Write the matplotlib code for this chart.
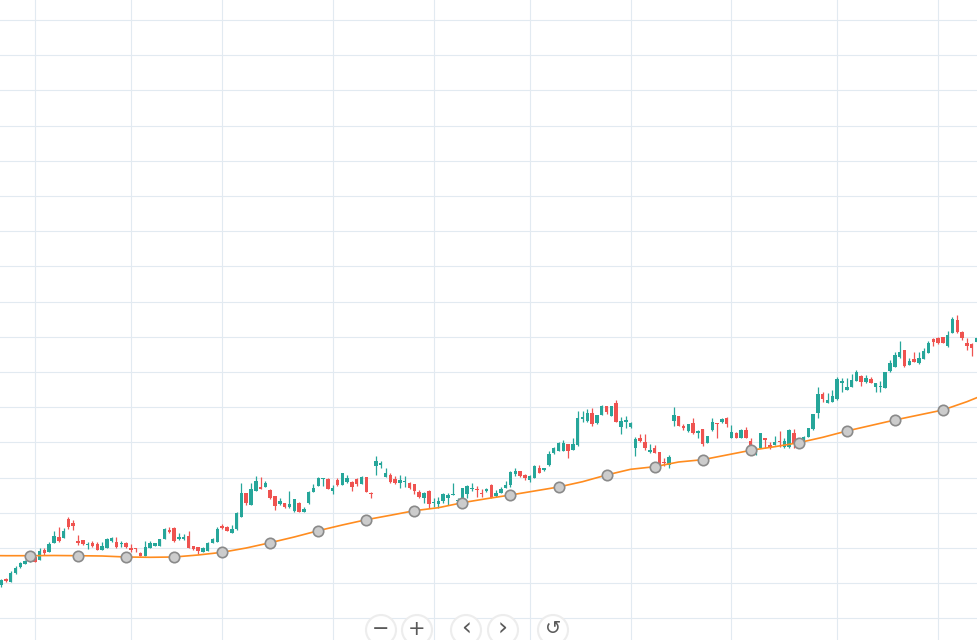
import numpy as np
import matplotlib.pyplot as plt
from matplotlib.patches import Ellipse

# --------------------------
# DADOS (candle a candle)
# --------------------------

abertura = [
    55, 61, 58, 67, 73, 76, 78.5, 83, 80, 90,
    88, 97, 103, 102, 121, 117.3, 99.3, 100, 95.5, 96.7,
    95.7, 90, 92.3, 99.3, 98.3, 95.7, 97.3, 92.3, 91.7, 87.3,
    84.3, 92.3, 94.3, 94, 100.7, 110, 112.3, 100.7, 101, 104.3,
    94, 92.7, 88.3, 89.3, 97.3, 98.3, 114, 112.7, 106.7, 111,
    123.3, 146.7, 135, 149.3, 152.7, 153.3, 150, 144, 136, 137.3,
    132.7, 129.3, 137.3, 128.3, 137.3, 147.7, 154, 160.7, 161.3, 149.3,
    160, 155, 158.3, 158.3, 161, 155.7, 163.3, 147.3, 174.3, 175.3,
    163.3, 165, 160.7, 156.7, 158.3, 157.3, 155.7, 148.3, 142.3, 149,
    136.7, 135.7, 139, 142.3, 145, 139, 142.3, 146, 151, 151,
    146.7, 149, 155, 144, 147.3, 151.7, 155, 165.7, 169, 165,
    160, 162.3, 172.3, 170, 175, 186.7, 189, 189, 195.7, 190,
    195, 221, 219, 227.3, 216.7, 225, 234, 224.3, 237.3, 213.3,
    218.3, 213.3, 192.3, 202.3, 198.3, 188.3, 191.7, 187.7, 177.3, 175,
    219, 224, 214.3, 209, 216.7, 206.7, 210.7, 197.3, 210, 217.3,
    218.3, 221.7, 202.3, 206.7, 202.3, 210, 199, 185.7, 192.3, 202.3,
    195, 195, 199, 193.3, 193.3, 207.3, 197, 199, 203.3, 211,
    226.7, 246, 237.3, 238.3, 241, 257, 250, 253.3, 259, 264,
    258.3, 261, 253.3, 252.7, 251.7, 269, 273.3, 283.3, 290, 275,
    281, 276.7, 281, 286.7, 301, 302.3, 303, 294.3, 306.7, 320,
    308.3, 296.7, 295.7, 298.3,
]
maxima = [
    61, 62, 69, 74, 78, 80, 80.7, 83.5, 92, 92,
    98.3, 109, 113.3, 112.3, 123.3, 120, 105, 100.5, 97.7, 99,
    98.3, 97.7, 101.7, 103.3, 103.3, 99, 98.3, 95.7, 92.3, 88.3,
    99, 99, 97.5, 101.5, 111.7, 113.3, 113.3, 106.7, 105.7, 109,
    94.5, 93.3, 93.3, 98, 101.7, 112.7, 116, 114, 115, 128,
    156.7, 147.3, 156.7, 164, 163.3, 159, 150.7, 144, 141.7, 137.5,
    149, 141, 138.3, 132.7, 149.3, 155.7, 163.3, 162.5, 162, 155,
    161.7, 167, 165, 159.3, 161.7, 164, 163.5, 148.3, 184, 179,
    171.7, 166.7, 164, 165, 164, 158, 156.5, 150, 148.3, 150,
    142, 143.3, 147.3, 146.7, 157.3, 142, 152, 155, 157.3, 154,
    150.7, 152.3, 155.7, 150, 153.3, 159, 169, 171.7, 169.5, 165.7,
    165, 175, 175, 172.5, 189, 193.3, 198.3, 200, 196, 202.3,
    229, 229, 230.7, 231.7, 225.5, 235, 234.5, 234.5, 240, 223.3,
    224.3, 218.3, 203.3, 205.7, 205.7, 195.7, 195, 188.3, 182.3, 185,
    232.7, 224.5, 215.7, 216, 221.7, 210, 211, 204.5, 222.3, 217.3,
    222.3, 223.3, 215, 207.7, 210.7, 213.3, 201.7, 193.3, 207.3, 202.3,
    198.3, 204.3, 209, 202.3, 211, 211, 201, 204, 212.5, 226.5,
    253.3, 247.7, 246.7, 250, 263.3, 261.7, 261.7, 265.7, 270, 265,
    265, 263.3, 257, 259, 268.3, 280, 288.3, 299, 290, 281.7,
    287.7, 287.7, 292.3, 299, 302.3, 303, 303.5, 309, 323.3, 325,
    309, 301.7, 296.7, 303.3,
]
minima = [
    53, 58, 58, 66, 72, 76, 77.7, 78, 80, 85,
    88, 97, 98.3, 102, 111, 110, 95, 95.5, 90.7, 93.3,
    90, 90, 92.3, 97.7, 91.7, 93.3, 92.3, 88.3, 88.3, 84.3,
    84.3, 92.3, 94, 94, 100.7, 106.7, 98.3, 100, 100, 91.7,
    90.5, 86, 88.3, 89, 97.3, 98.3, 111, 109.3, 106.7, 110.5,
    123.3, 135, 135, 149.3, 151, 152.7, 140.7, 130, 135, 132.5,
    132, 128.3, 128.3, 128.3, 136, 147.7, 154, 154, 150.7, 145.7,
    154, 155, 156.7, 149.3, 154, 155.7, 148, 141.7, 165, 171.7,
    163.3, 157.3, 155.7, 151.7, 153.3, 151, 145.7, 142.3, 136.7, 131.7,
    133.3, 131.7, 136.7, 135, 145, 136.7, 142.3, 141.7, 149.3, 143.3,
    143.3, 147.7, 141.7, 143, 147.3, 151.7, 153.3, 164.3, 163.5, 160,
    158.3, 161.7, 166.7, 169.5, 174.3, 185.7, 189, 189, 182.3, 190,
    194.3, 218.3, 217.7, 214.3, 216.5, 225, 225.7, 224, 217.7, 205.7,
    211.7, 212.3, 184.3, 198.3, 190, 186.7, 186.7, 174.3, 174.3, 172.3,
    214, 214, 210, 207.7, 205.7, 201.7, 194.3, 197, 209, 202.3,
    216.7, 213.3, 202.3, 201.7, 202.3, 201.7, 187.7, 185, 192.3, 192.3,
    191, 195, 193.3, 192.3, 192.3, 192.3, 196, 198, 203, 210.5,
    221.7, 238.3, 237.3, 238.3, 240, 248, 250, 253.3, 259, 254,
    257.3, 256.7, 248.3, 248.3, 251.7, 268.3, 273.3, 281.7, 273.3, 275,
    278.3, 275.7, 281, 286.7, 294.3, 296.3, 297, 293.3, 306.7, 306.7,
    300, 290, 284.3, 298,
]
fechamento = [
    60, 59, 67, 72, 77, 79, 79.3, 78, 89, 87,
    96, 104, 99, 109, 113, 114, 97.3, 95.7, 96.2, 94.3,
    90, 94.3, 100.7, 101.7, 92.7, 96.7, 93.3, 90, 91, 84.3,
    93.3, 96.7, 96.7, 100.7, 110.7, 107.7, 99.3, 103.3, 103.3, 92.3,
    91, 89.3, 92.3, 97.3, 100.7, 111, 111.7, 109.3, 111, 127.3,
    147.3, 136.7, 151, 159, 151, 156.7, 142.3, 134, 139, 132.7,
    136, 140.7, 128.3, 130.7, 148.3, 151.7, 162.3, 162.3, 150.7, 151.7,
    155, 166.7, 161.7, 153.3, 156, 163.3, 148.3, 146, 179, 177.3,
    167.3, 158.3, 156.7, 160, 159, 151.7, 149, 143.3, 147.3, 135.7,
    138.3, 139, 146, 145, 146, 140, 151.7, 154, 151.7, 150,
    145.7, 150.7, 142.3, 146.7, 151, 155, 168.3, 169, 164, 162.3,
    164, 174, 167.3, 172.3, 185.7, 192.3, 197.3, 197.3, 189, 195.7,
    222.3, 223.3, 227, 215.7, 225, 234, 227.7, 234, 218.3, 219,
    220, 217.3, 201, 199, 191.7, 190, 187.3, 175, 176.7, 183.3,
    225, 214.3, 211.7, 215.7, 206.7, 209, 195.7, 204, 218.3, 215.7,
    221, 216, 208.3, 202.3, 210, 202.3, 193.3, 192.3, 206.7, 200,
    191.7, 198.3, 197.7, 199.3, 210, 196.7, 200, 203, 211.7, 225.7,
    245.7, 241, 240, 244.3, 261, 259, 253.3, 260, 267.7, 258.3,
    261.7, 256.7, 256.7, 253.3, 267.7, 276.7, 285, 288.3, 274.3, 279,
    278.3, 282.3, 289, 297.3, 297.7, 296.7, 297.3, 305, 321, 307.7,
    301.7, 294.3, 291.7, 302.3,
]

# média móvel (linha laranja), um ponto a cada 5 candles
mm_idx = list(range(-4, 207, 5))
mm_val = [
    84.5, 84.3, 84.3, 84.5, 84.3, 84, 83, 82.7, 83, 85,
    87.7, 92, 97.3, 103, 109.3, 115, 120.3, 124.7, 129.3, 132.3,
    137.3, 141.3, 145, 149, 153, 158.3, 165, 170.7, 173.3, 178,
    180.3, 185, 189.7, 193.3, 197.3, 202.7, 209, 214.5, 220, 225,
    230, 238.3, 248,
]

# início de cada mês (linhas verticais da grade)
meses_idx = [7, 27, 46, 69, 90, 110, 131, 152, 174, 195]

# --------------------------
# CORES
# --------------------------

VERDE = "#26a69a"
VERMELHO = "#ef5350"
LARANJA = "#ff8c1f"
GRADE = "#e2eaf1"

# --------------------------
# GRÁFICO
# --------------------------

fig = plt.figure(figsize=(9.77, 6.4), dpi=100)
ax = fig.add_axes([0, 0, 1, 1])

o = np.array(abertura)
h = np.array(maxima)
l = np.array(minima)
c = np.array(fechamento)
x = np.arange(len(o))
cores = np.where(c >= o, VERDE, VERMELHO)

ax.vlines(x, l, h, colors=cores, linewidth=0.9, zorder=2)
corpo = np.maximum(np.abs(c - o), 1.0)
ax.bar(x, corpo, bottom=np.minimum(o, c), width=0.72, color=cores,
       linewidth=0, zorder=2)

ax.plot(mm_idx, mm_val, color=LARANJA, lw=1.2, zorder=3)
ax.plot(mm_idx[2:41:2], mm_val[2:41:2], "o", ms=7.5, mfc="#cccccc",
        mec="#8a8a8a", mew=1.2, zorder=4)

ax.set_xlim(-0.24, 203.1)
ax.set_ylim(0, 640)
ax.set_xticks(meses_idx)
ax.set_yticks(np.arange(21.6, 640, 35.2))
ax.grid(True, color=GRADE, lw=0.8)
ax.set_axisbelow(True)
ax.tick_params(length=0, labelbottom=False, labelleft=False)
for s in ax.spines.values():
    s.set_visible(False)

# botões de navegação
botoes = ["\u2212", "+", "\u2039", "\u203a", "\u21ba"]
bx = [381, 417, 466, 503, 553]
tamanhos = [15, 15, 18, 18, 14]
for simb, px, fs in zip(botoes, bx, tamanhos):
    cx, cy = px / 977, 1 - 630 / 640
    fig.add_artist(Ellipse((cx, cy), 30 / 977, 30 / 640, transform=fig.transFigure,
                           facecolor="white", edgecolor="#ededed", lw=1.5, zorder=10))
    fig.text(cx, cy + 0.002, simb, ha="center", va="center", fontsize=fs,
             color="#5a5a5a", zorder=11)

fig.savefig("out.png", dpi=100, facecolor="white")
